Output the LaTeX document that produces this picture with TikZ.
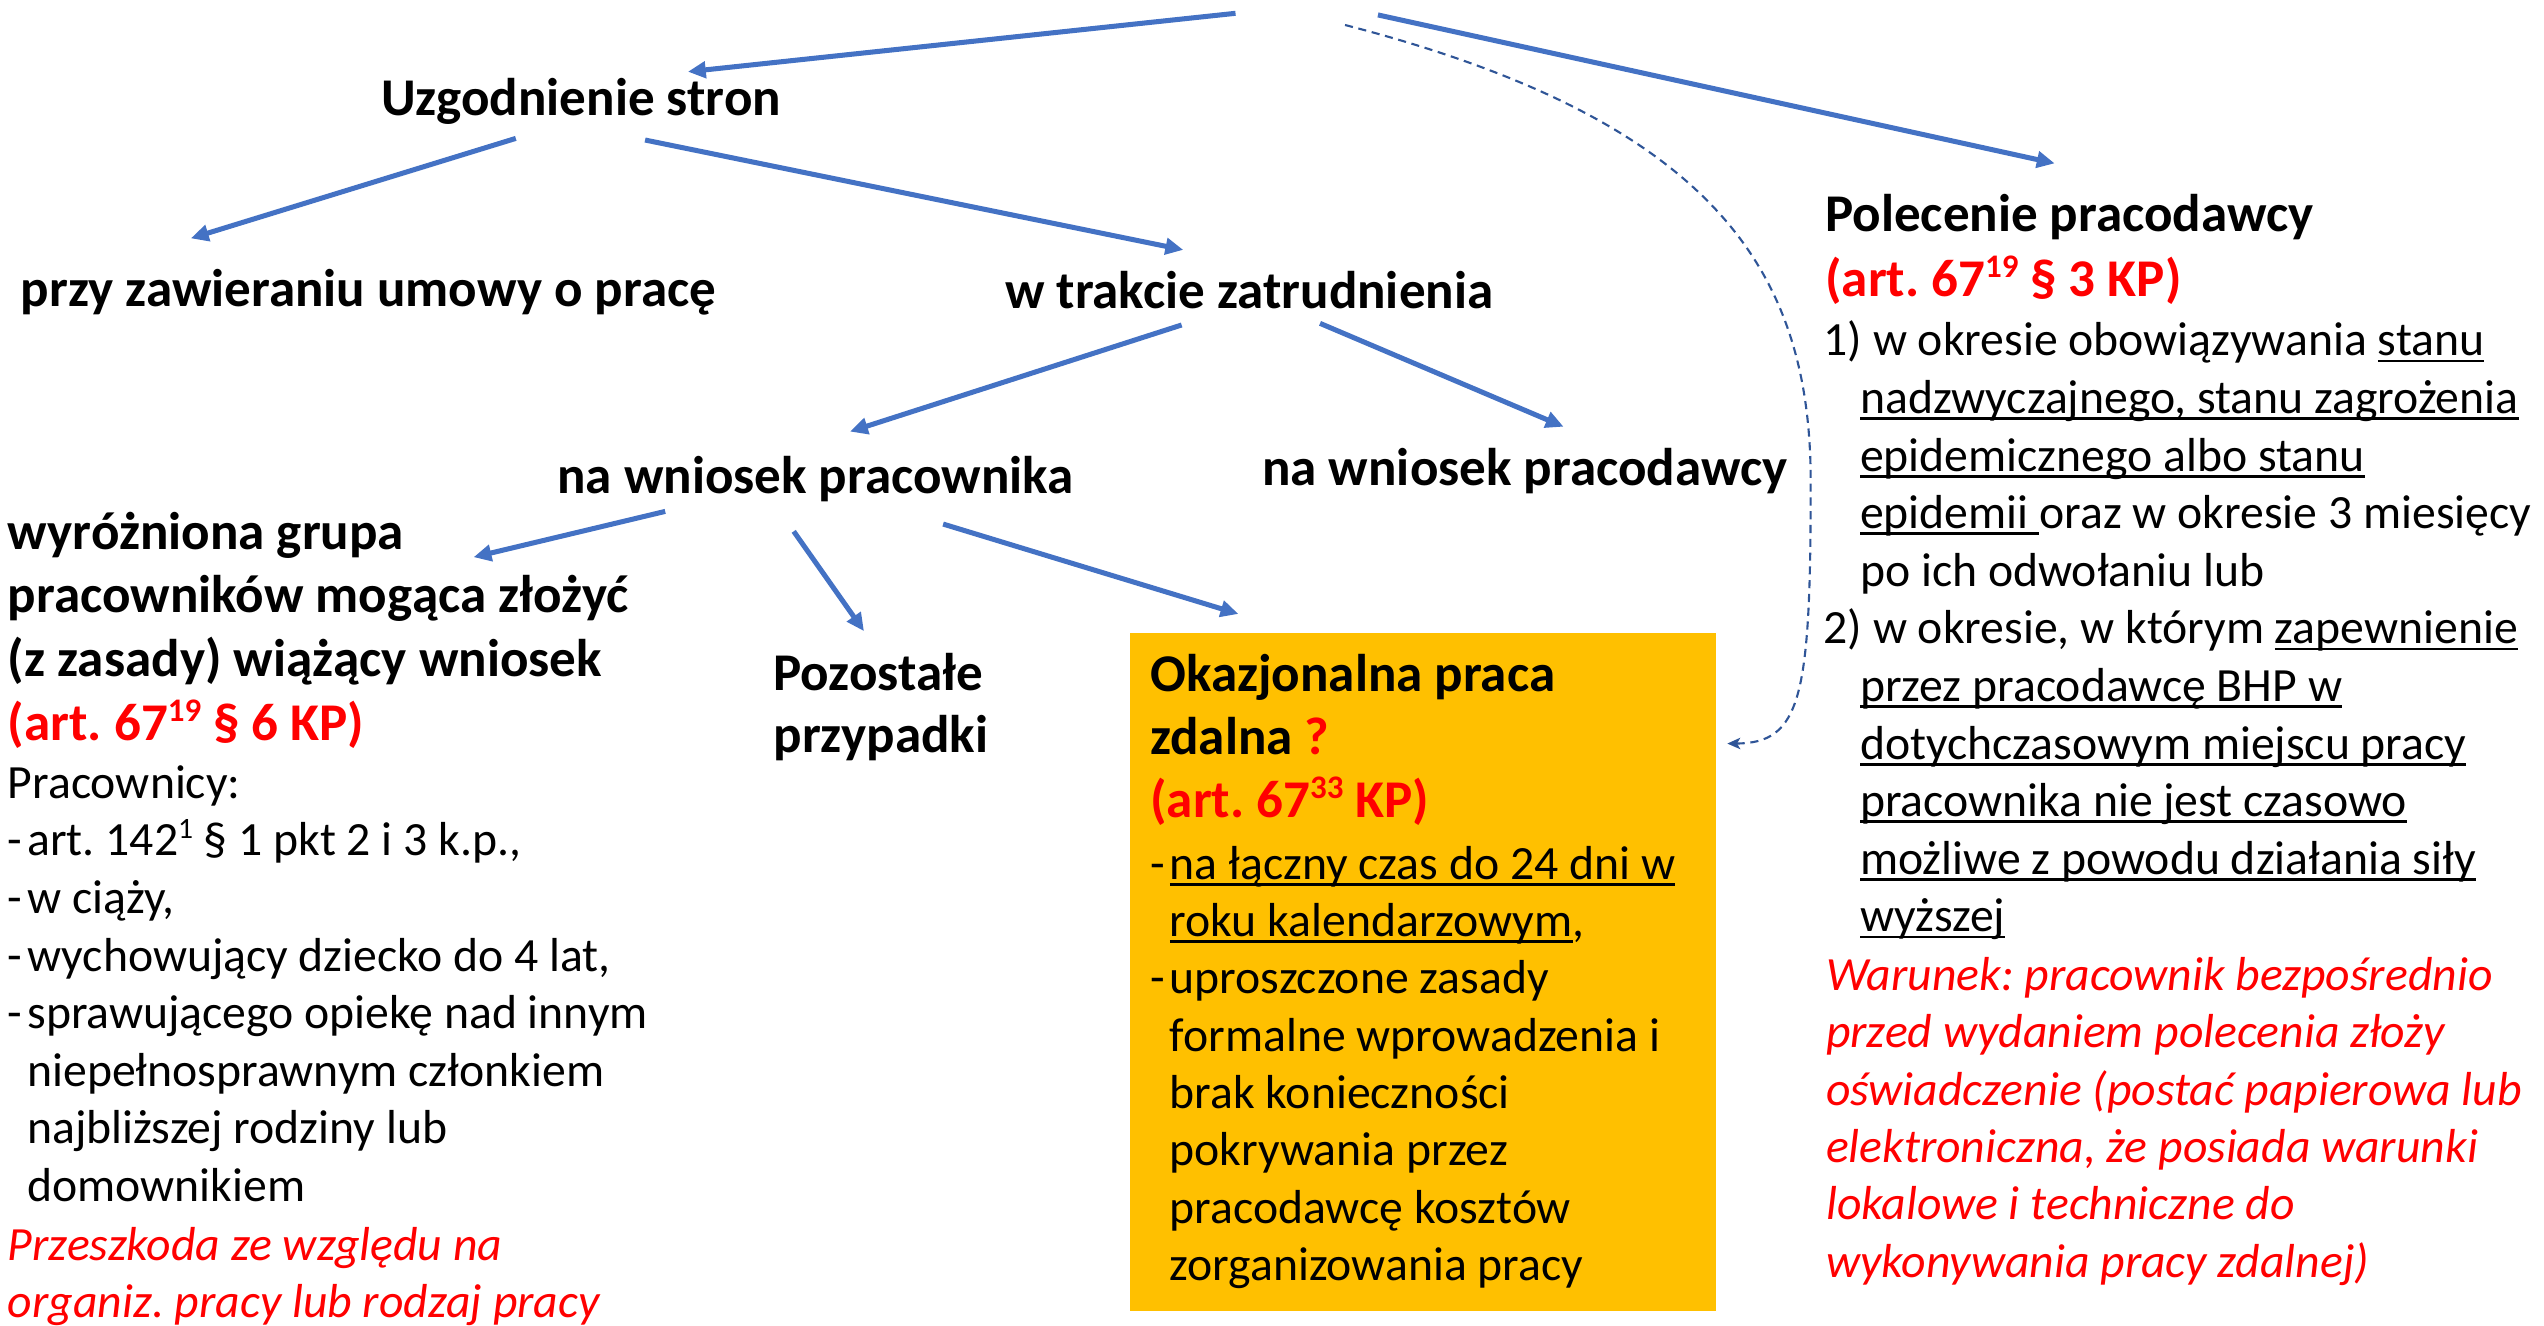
\documentclass[tikz,border=0pt]{standalone}
\usepackage{fontspec}
\setmainfont{Carlito}
\usetikzlibrary{arrows.meta}
\frenchspacing
\definecolor{arrblue}{HTML}{4472C4}
\definecolor{dashblue}{HTML}{2F5597}
\definecolor{boxyellow}{HTML}{FFC000}
\definecolor{txtred}{HTML}{FF0000}
\newcommand\hdf{\fontsize{32.7}{39.3}\selectfont\bfseries}
\newcommand\bdf{\fontsize{29.4}{35.5}\selectfont}
\newcommand\itf{\fontsize{29.4}{35.3}\selectfont\itshape\color{txtred}}
\newcommand\Lh[1]{\hbox{\hdf #1}}
\newcommand\Lb[1]{\hbox{\bdf #1}}
\newcommand\Li[1]{\hbox{\itf #1}}
\newcommand\bsk[1]{\baselineskip=#1pt\relax}
\newcommand\hsup[1]{\raisebox{11.5pt}{\fontsize{20.3}{20}\selectfont #1}}
\newcommand\bsup[1]{\raisebox{10.5pt}{\fontsize{18.2}{18}\selectfont #1}}
\newcommand\ulx[1]{\setbox0=\hbox{#1}\rlap{\rule[-4pt]{\wd0}{1.8pt}}\box0}
\newcommand\dsh{\makebox[12pt][l]{-}}
\newcommand\ind{\kern12pt}
\newcommand\indr{\kern22.5pt}
\tikzset{
  txt/.style={anchor=base west, inner sep=0pt, outer sep=0pt},
  hd/.style={txt, font=\hdf},
  arr/.style={draw=arrblue, line width=3.1pt, -{Triangle[length=11pt,width=10pt]}},
  dasharr/.style={draw=dashblue, line width=1.3pt, dash pattern=on 5pt off 3.5pt, -{Stealth[length=8pt,width=7pt,inset=2pt]}},
  ybox/.style={fill=boxyellow, draw=none, anchor=north west, inner sep=0pt, minimum width=361pt, minimum height=418pt}
}
\begin{document}
\begin{tikzpicture}[x=1pt,y=-1pt]
\useasboundingbox (0,0) rectangle (1568,817);

% labels
\node[hd] (uzg) at (235,70.9) {Uzgodnienie stron};
\node[hd] (przy) at (12.8,189) {przy zawieraniu umowy o pracę};
\node[hd] (wtrak) at (619.5,190) {w trakcie zatrudnienia};
\node[hd] (napr) at (343.5,304) {na wniosek pracownika};
\node[hd] (napd) at (778,299) {na wniosek pracodawcy};
\node[txt] (poz) at (476.8,425.6) {\vtop{\bsk{38.5}\Lh{Pozostałe}\Lh{przypadki}}};

% left column
\node[txt] (wyr) at (4.9,338.4) {\vtop{\bsk{39.3}%
  \Lh{wyróżniona grupa}%
  \Lh{pracowników mogąca złożyć}%
  \Lh{(z zasady) wiążący wniosek}%
  \Lh{\color{txtred}(art. 67\hsup{19} § 6 KP)}}};
\node[txt] (prac) at (4.9,492) {\vtop{\bsk{35.5}%
  \Lb{Pracownicy:}%
  \Lb{\dsh art. 142\bsup{1} § 1 pkt 2 i 3 k.p.,}%
  \Lb{\dsh w ciąży,}%
  \Lb{\dsh wychowujący dziecko do 4 lat,}%
  \Lb{\dsh sprawującego opiekę nad innym}%
  \Lb{\ind niepełnosprawnym członkiem}%
  \Lb{\ind najbliższej rodziny lub}%
  \Lb{\ind domownikiem}}};
\node[txt] (przesz) at (4.9,776.6) {\vtop{\bsk{35.3}%
  \Li{Przeszkoda ze względu na}%
  \Li{organiz. pracy lub rodzaj pracy}}};

% yellow box
\node[ybox] (box) at (696.5,389.8) {};
\node[txt] (okaz) at (709,426.3) {\vtop{\bsk{38.8}%
  \Lh{Okazjonalna praca}%
  \Lh{zdalna {\color{txtred}?}}%
  \Lh{\color{txtred}(art. 67\hsup{33} KP)}}};
\node[txt] (okazb) at (709,541.8) {\vtop{\bsk{35.36}%
  \Lb{\dsh\ulx{na łączny czas do 24 dni w}}%
  \Lb{\ind\ulx{roku kalendarzowym},}%
  \Lb{\dsh uproszczone zasady}%
  \Lb{\ind formalne wprowadzenia i}%
  \Lb{\ind brak konieczności}%
  \Lb{\ind pokrywania przez}%
  \Lb{\ind pracodawcę kosztów}%
  \Lb{\ind zorganizowania pracy}}};

% right column
\node[txt] (pol) at (1125,142.8) {\vtop{\bsk{40}%
  \Lh{Polecenie pracodawcy}%
  \Lh{\color{txtred}(art. 67\hsup{19} § 3 KP)}}};
\node[txt] (polb) at (1124,219.4) {\vtop{\bsk{35.5}%
  \Lb{1) w okresie obowiązywania \ulx{stanu}}%
  \Lb{\indr\ulx{nadzwyczajnego, stanu zagrożenia}}%
  \Lb{\indr\ulx{epidemicznego albo stanu}}%
  \Lb{\indr\ulx{epidemii }oraz w okresie 3 miesięcy}%
  \Lb{\indr po ich odwołaniu lub}%
  \Lb{2) w okresie, w którym \ulx{zapewnienie}}%
  \Lb{\indr\ulx{przez pracodawcę BHP w}}%
  \Lb{\indr\ulx{dotychczasowym miejscu pracy}}%
  \Lb{\indr\ulx{pracownika nie jest czasowo}}%
  \Lb{\indr\ulx{możliwe z powodu działania siły}}%
  \Lb{\indr\ulx{wyższej}}}};
\node[txt] (war) at (1125.5,610.6) {\vtop{\bsk{35.3}%
  \Li{Warunek: pracownik bezpośrednio}%
  \Li{przed wydaniem polecenia złoży}%
  \Li{oświadczenie (postać papierowa lub}%
  \Li{elektroniczna, że posiada warunki}%
  \Li{lokalowe i techniczne do}%
  \Li{wykonywania pracy zdalnej)}}};

% connector end points
\coordinate (t1) at (761.5,8.2);
\coordinate (t2) at (829,15.4);
\coordinate (t3) at (849.3,9.2);
\coordinate (uzgIn) at (424,44.2);
\coordinate (polIn) at (1266.4,100.7);
\coordinate (boxIn) at (1064.6,458.3);
\coordinate (uzgL) at (317.9,85.3);
\coordinate (uzgR) at (397.6,86.3);
\coordinate (przyIn) at (117.6,146.9);
\coordinate (wtrakIn) at (729.3,154);
\coordinate (wtrakL) at (728.3,200.3);
\coordinate (wtrakR) at (813.6,199.3);
\coordinate (naprIn) at (523.9,266);
\coordinate (napdIn) at (963.7,263);
\coordinate (naprL) at (410,315.2);
\coordinate (naprM) at (489.2,327.5);
\coordinate (naprR) at (581.3,323);
\coordinate (wyrIn) at (291.9,343.4);
\coordinate (pozIn) at (532.5,389);
\coordinate (boxTop) at (763.3,378.4);

% connectors
\draw[arr] (t1) -- (uzgIn);
\draw[arr] (t3) -- (polIn);
\draw[dasharr] (t2) .. controls (1060,75) and (1117,170) .. (1116,300)
  .. controls (1116,430) and (1110,458) .. (boxIn);
\draw[arr] (uzgL) -- (przyIn);
\draw[arr] (uzgR) -- (wtrakIn);
\draw[arr] (wtrakL) -- (naprIn);
\draw[arr] (wtrakR) -- (napdIn);
\draw[arr] (naprL) -- (wyrIn);
\draw[arr] (naprM) -- (pozIn);
\draw[arr] (naprR) -- (boxTop);
\end{tikzpicture}
\end{document}
